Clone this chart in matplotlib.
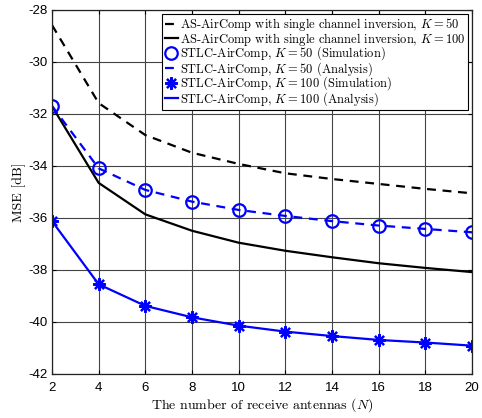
import numpy as np
import matplotlib
matplotlib.use('Agg')
import matplotlib.pyplot as plt

plt.rcParams['mathtext.fontset'] = 'cm'
plt.rcParams['axes.unicode_minus'] = False

# receive antennas
N = [2, 4, 6, 8, 10, 12, 14, 16, 18, 20]

# MSE [dB]
as_k50 = [-28.58, -31.58, -32.81, -33.49, -33.92, -34.28, -34.50, -34.69, -34.88, -35.05]
as_k100 = [-31.70, -34.65, -35.86, -36.49, -36.95, -37.26, -37.51, -37.74, -37.92, -38.08]
stlc_k50_sim = [-31.69, -34.09, -34.92, -35.37, -35.69, -35.92, -36.12, -36.29, -36.42, -36.55]
stlc_k50_ana = [-31.69, -34.09, -34.92, -35.37, -35.69, -35.92, -36.12, -36.29, -36.42, -36.55]
stlc_k100_sim = [-36.12, -38.55, -39.38, -39.82, -40.14, -40.37, -40.54, -40.69, -40.79, -40.91]
stlc_k100_ana = [-36.12, -38.55, -39.38, -39.82, -40.14, -40.37, -40.54, -40.69, -40.79, -40.91]

xticks = [2, 4, 6, 8, 10, 12, 14, 16, 18, 20]
yticks = [-42, -40, -38, -36, -34, -32, -30, -28]

fig = plt.figure(figsize=(4.82, 4.18), dpi=100)
ax = fig.add_axes([52 / 482, 1 - 374 / 418, 420 / 482, 364 / 418])

blue = '#0000ff'
ax.plot(N, as_k50, color='k', ls=(0, (4, 3)), lw=1.6,
        label=r'AS-AirComp with single channel inversion, $K=50$')
ax.plot(N, as_k100, color='k', ls='-', lw=1.6,
        label=r'AS-AirComp with single channel inversion, $K=100$')
ax.plot(N, stlc_k50_sim, ls='none', marker='o', ms=9, mfc='none', mec=blue, mew=1.6,
        label=r'STLC-AirComp, $K=50$ (Simulation)')
ax.plot(N, stlc_k50_ana, color=blue, ls=(0, (4, 3)), lw=1.6,
        label=r'STLC-AirComp, $K=50$ (Analysis)')
ax.plot(N, stlc_k100_sim, ls='none', marker=(8, 2, 0), ms=9, mec=blue, mew=1.6,
        label=r'STLC-AirComp, $K=100$ (Simulation)')
ax.plot(N, stlc_k100_ana, color=blue, ls='-', lw=1.6,
        label=r'STLC-AirComp, $K=100$ (Analysis)')

ax.set_xlim(2, 20)
ax.set_ylim(-42, -28)
ax.set_xticks(xticks)
ax.set_yticks(yticks)
ax.set_xticklabels([str(v) for v in xticks], fontfamily='Liberation Sans', fontsize=9.5)
ax.set_yticklabels([str(v) for v in yticks], fontfamily='Liberation Sans', fontsize=9.5)
ax.tick_params(direction='in', length=3, width=0.8, pad=3, top=True, right=True)
ax.tick_params(axis='x', pad=6)
ax.grid(True, color='#444444', lw=0.8)
for s in ax.spines.values():
    s.set_linewidth(0.9)
    s.set_color('#222222')

ax.set_xlabel(r'The number of receive antennas ($N$)', fontfamily='cmr10', fontsize=10, labelpad=1)
ax.set_ylabel('MSE [dB]', fontfamily='cmr10', fontsize=10, labelpad=2)

leg = ax.legend(loc='upper right', prop={'family': 'cmr10', 'size': 9}, fancybox=False,
                edgecolor='k', framealpha=1, borderpad=0.2, labelspacing=-0.22,
                handlelength=1.1, handletextpad=0.15, borderaxespad=0.3, numpoints=1)
leg.get_frame().set_linewidth(0.8)

fig.savefig('out.png', dpi=100)
